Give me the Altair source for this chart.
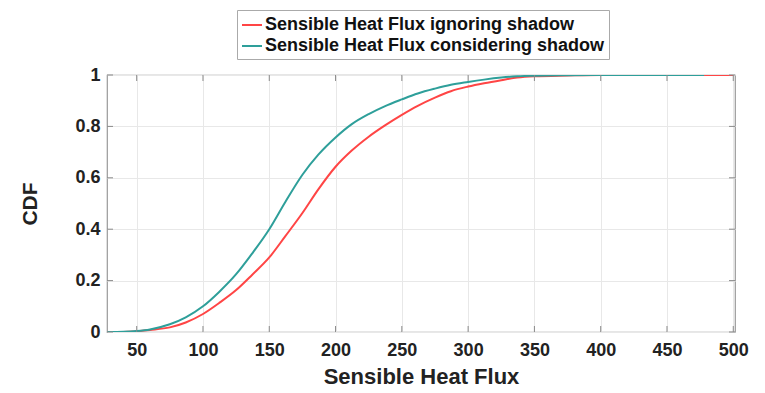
import altair as alt
import pandas as pd

# Series 1: Sensible Heat Flux ignoring shadow
x_ign = [40, 50, 60, 75, 87, 100, 112, 125, 137, 150, 162, 175, 187, 200, 212,
         225, 237, 250, 262, 275, 287, 300, 312, 325, 337, 350, 375, 400, 450, 500]
cdf_ign = [0.0, 0.003, 0.008, 0.018, 0.037, 0.07, 0.112, 0.163, 0.222, 0.29, 0.372,
           0.463, 0.555, 0.643, 0.705, 0.76, 0.803, 0.845, 0.88, 0.912, 0.937, 0.955,
           0.968, 0.98, 0.99, 0.995, 0.998, 1.0, 1.0, 1.0]

# Series 2: Sensible Heat Flux considering shadow
x_con = [28, 40, 50, 60, 75, 87, 100, 112, 125, 137, 150, 162, 175, 187, 200, 212,
         225, 237, 250, 262, 275, 287, 300, 312, 325, 337, 350, 375, 400, 478]
cdf_con = [0.0, 0.001, 0.004, 0.01, 0.03, 0.057, 0.10, 0.155, 0.225, 0.305, 0.40,
           0.505, 0.612, 0.69, 0.757, 0.808, 0.848, 0.878, 0.905, 0.928, 0.947, 0.962,
           0.973, 0.982, 0.99, 0.995, 0.997, 0.999, 1.0, 1.0]

series_names = ["Sensible Heat Flux ignoring shadow", "Sensible Heat Flux considering shadow"]
series_colors = ["#FF4545", "#2E9F9A"]

x_ticks = [50, 100, 150, 200, 250, 300, 350, 400, 450, 500]
y_ticks = [0, 0.2, 0.4, 0.6, 0.8, 1.0]

df = pd.concat([
    pd.DataFrame({"flux": x_ign, "cdf": cdf_ign, "series": series_names[0]}),
    pd.DataFrame({"flux": x_con, "cdf": cdf_con, "series": series_names[1]}),
])
df_xt = pd.DataFrame({"t": x_ticks})
df_yt = pd.DataFrame({"t": y_ticks})

W, H = 628, 257
XDOM = [27.6, 501.3]
FONT = "Liberation Sans"

xscale = alt.Scale(domain=XDOM, nice=False, zero=False)
yscale = alt.Scale(domain=[0, 1], nice=False)

lines = alt.Chart(df).mark_line(strokeWidth=2, interpolate="monotone", clip=True).encode(
    x=alt.X("flux:Q", scale=xscale,
            axis=alt.Axis(values=x_ticks, title="Sensible Heat Flux", grid=True,
                          gridColor="#E8E8E8", ticks=False, domain=False,
                          labelFontSize=18, labelFontWeight="bold", labelColor="#222",
                          labelPadding=9, labelFont=FONT,
                          titleFont=FONT, titleFontSize=22, titleFontWeight="bold",
                          titleColor="#222", titlePadding=7)),
    y=alt.Y("cdf:Q", scale=yscale,
            axis=alt.Axis(values=y_ticks, format="~g", title="CDF", grid=True,
                          gridColor="#E8E8E8", ticks=False, domain=False,
                          labelFontSize=18, labelFontWeight="bold", labelColor="#222",
                          labelPadding=7, labelFont=FONT,
                          titleFont=FONT, titleFontSize=21, titleFontWeight="bold",
                          titleColor="#222", titlePadding=34)),
    color=alt.Color("series:N",
                    scale=alt.Scale(domain=series_names, range=series_colors),
                    sort=series_names,
                    legend=alt.Legend(title=None, orient="none", legendX=130, legendY=-65,
                                      direction="vertical", symbolType="stroke",
                                      symbolSize=400, symbolStrokeWidth=2,
                                      labelFontSize=18, labelFontWeight="bold",
                                      labelFont=FONT, labelColor="#111", labelLimit=600,
                                      labelOffset=2, rowPadding=1, padding=4,
                                      strokeColor="#AAAAAA", fillColor="white")),
)

tick_color = "#8A8A8A"
bottom_ticks = alt.Chart(df_xt).mark_rule(color=tick_color, strokeWidth=1).encode(
    x=alt.X("t:Q", scale=xscale), y=alt.value(H), y2=alt.value(H - 6))
top_ticks = alt.Chart(df_xt).mark_rule(color=tick_color, strokeWidth=1).encode(
    x=alt.X("t:Q", scale=xscale), y=alt.value(0), y2=alt.value(6))
left_ticks = alt.Chart(df_yt).mark_rule(color=tick_color, strokeWidth=1).encode(
    y=alt.Y("t:Q", scale=yscale), x=alt.value(0), x2=alt.value(6))
right_ticks = alt.Chart(df_yt).mark_rule(color=tick_color, strokeWidth=1).encode(
    y=alt.Y("t:Q", scale=yscale), x=alt.value(W - 6), x2=alt.value(W))

chart = alt.layer(lines, bottom_ticks, top_ticks, left_ticks, right_ticks).properties(
    width=W, height=H,
    autosize=alt.AutoSizeParams(type="none"),
    padding={"left": 107, "top": 75, "right": 30, "bottom": 61},
    background="white",
).configure_view(stroke="#9A9A9A", strokeWidth=1.2)

chart.save("out.html", embed_options={"renderer": "svg", "actions": False})
